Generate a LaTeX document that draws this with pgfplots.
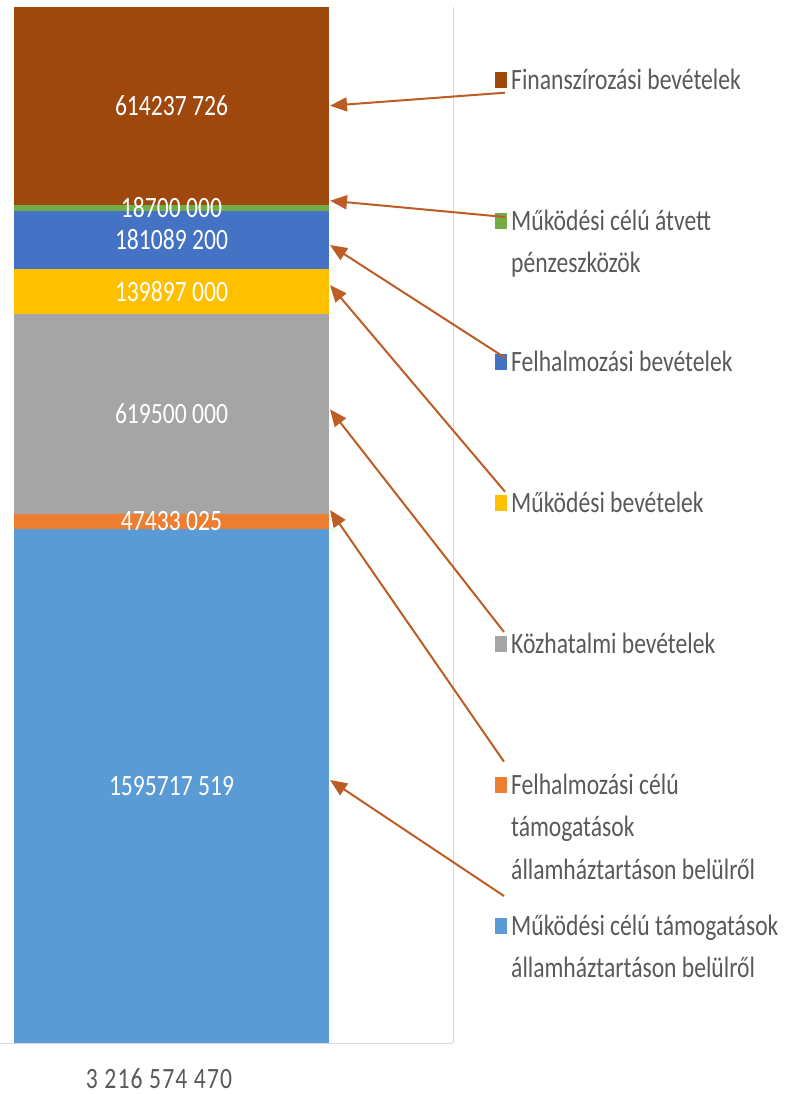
\documentclass[border=0pt]{standalone}
\usepackage{pgfplots}
\pgfplotsset{compat=1.18}
\usepackage{fontspec}
\setmainfont{Carlito}[FakeStretch=0.8]
\newfontfamily\tickfont{Carlito}[FakeStretch=0.8, LetterSpace=4]
\usetikzlibrary{arrows.meta}
\definecolor{cBlue}{HTML}{5B9BD5}
\definecolor{cOrange}{HTML}{ED7D31}
\definecolor{cGray}{HTML}{A5A5A5}
\definecolor{cYellow}{HTML}{FFC000}
\definecolor{cBlueB}{HTML}{4472C4}
\definecolor{cGreen}{HTML}{70AD47}
\definecolor{cBrown}{HTML}{9E480E}
\definecolor{cArrow}{HTML}{BE5C26}
\definecolor{cText}{HTML}{595959}
\definecolor{cGrid}{HTML}{D9D9D9}
\newcommand{\fs}{\fontsize{29.5bp}{42.5bp}\selectfont}
\newcommand{\lentry}[1]{\smash{\parbox[t]{300bp}{\raggedright #1}}}
\begin{document}
\begin{tikzpicture}
\begin{axis}[
  at={(0bp,-1043bp)}, anchor=south west,
  scale only axis, width=453bp, height=1036bp,
  xmin=0, xmax=453, ymin=0, ymax=3216574470,
  ybar stacked, bar width=315bp,
  axis x line*=bottom, axis y line*=right,
  axis line style={draw=cGrid, line width=1bp, -},
  ytick=\empty, xtick={159}, xticklabels={3 216 574 470},
  major tick length=0pt,
  xticklabel style={font=\fs\tickfont, text=cText, inner sep=0pt, anchor=north, yshift=-25bp},
  legend style={at={(1.0927,0.9595)}, anchor=north west, draw=none, fill=none,
    inner sep=0pt, row sep=0pt, font=\fs, text=cText,
    cells={anchor=base west},
    nodes={text height=40bp, text depth=101bp, inner xsep=4bp, inner ysep=0pt}},
  reverse legend,
  legend image code/.code={\draw[#1,draw=none] (0bp,1bp) rectangle (12bp,17bp);},
  clip=false,
]
\addplot[fill=cBlue, draw=none] coordinates {(171.5,1595717519)};
\addlegendentry{\lentry{Működési célú támogatások\newline államháztartáson belülről}}
\addplot[fill=cOrange, draw=none] coordinates {(171.5,47433025)};
\addlegendentry{\lentry{Felhalmozási célú\newline támogatások\newline államháztartáson belülről}}
\addplot[fill=cGray, draw=none] coordinates {(171.5,619500000)};
\addlegendentry{\lentry{Közhatalmi bevételek}}
\addplot[fill=cYellow, draw=none] coordinates {(171.5,139897000)};
\addlegendentry{\lentry{Működési bevételek}}
\addplot[fill=cBlueB, draw=none] coordinates {(171.5,181089200)};
\addlegendentry{\lentry{Felhalmozási bevételek}}
\addplot[fill=cGreen, draw=none] coordinates {(171.5,18700000)};
\addlegendentry{\lentry{Működési célú átvett\newline pénzeszközök}}
\addplot[fill=cBrown, draw=none] coordinates {(171.5,614237726)};
\addlegendentry{\lentry{Finanszírozási bevételek}}
\end{axis}
\begin{axis}[
  at={(0bp,-1043bp)}, anchor=south west,
  scale only axis, width=453bp, height=1036bp,
  xmin=0, xmax=453, ymin=0, ymax=3216574470,
  hide axis, clip=false,
]
\addplot[only marks, mark=none, nodes near coords, point meta=explicit symbolic,
  nodes near coords style={anchor=center, text=white, font=\fs}] coordinates {
  (171.5,797858759.5) [1595717 519]
  (171.5,1619434031.5) [47433 025]
  (171.5,1952900544) [619500 000]
  (171.5,2332599044) [139897 000]
  (171.5,2493092144) [181089 200]
  (171.5,2592986744) [18700 000]
  (171.5,2909455607) [614237 726]
};
\end{axis}
\begin{scope}[cArrow, line width=2bp, -{Triangle[length=17bp, width=14bp]}]
\draw (505bp,-92.7bp) -- (330bp,-105.7bp);
\draw (505bp,-217bp) -- (330bp,-200.7bp);
\draw (505bp,-357.7bp) -- (330bp,-245bp);
\draw (505bp,-491.7bp) -- (330bp,-285bp);
\draw (504bp,-632bp) -- (330bp,-409.3bp);
\draw (504bp,-761.7bp) -- (330bp,-510bp);
\draw (504bp,-896bp) -- (330bp,-780bp);
\end{scope}
\pgfresetboundingbox
\path[use as bounding box] (0bp,0bp) rectangle (788bp,-1094bp);
\end{tikzpicture}
\end{document}
